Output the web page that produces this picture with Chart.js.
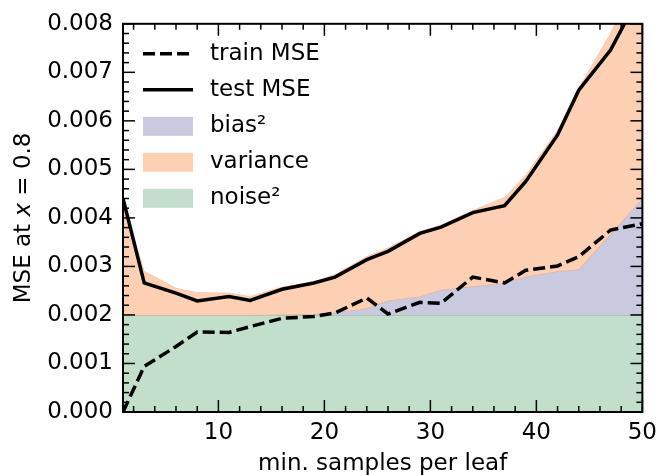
<!DOCTYPE html>
<html><head><meta charset="utf-8">
<script src="https://cdn.jsdelivr.net/npm/chart.js@4"></script>
<style>html,body{margin:0;padding:0;background:#fff}#wrap{width:664px;height:475px;position:relative}</style>
</head><body><div id="wrap"><canvas id="c"></canvas></div>
<script>
const leafSizes = [1,3,6,8,11,13,16,19,21,24,26,29,31,34,37,39,42,44,47,50];
const trainMSE  = [0.0,0.00094,0.00135,0.00165,0.00164,0.00176,0.00193,0.00197,0.00204,0.00235,0.00202,0.00226,0.00224,0.00278,0.00266,0.00292,0.00301,0.0032,0.00375,0.00388];
const testMSE   = [0.0044,0.00266,0.00245,0.00229,0.00238,0.0023,0.00253,0.00266,0.00278,0.00314,0.00331,0.00368,0.00381,0.00411,0.00425,0.00475,0.00571,0.00663,0.00746,0.0087];
const noiseSq   = [0.002,0.002,0.002,0.002,0.002,0.002,0.002,0.002,0.002,0.002,0.002,0.002,0.002,0.002,0.002,0.002,0.002,0.002,0.002,0.002];
const biasSq    = [0,0,0,0,0,0,0.00001,0.00002,0.00005,0.00014,0.0003,0.00038,0.00052,0.00059,0.00066,0.00079,0.0009,0.00094,0.00167,0.0024];
const variance  = [0.0023,0.0009,0.00055,0.00046,0.00045,0.00038,0.00056,0.00066,0.00078,0.00106,0.00108,0.00134,0.00133,0.00156,0.00176,0.00209,0.0029,0.00373,0.00413,0.0048];
const xTicks = [10,20,30,40,50];
const yTicks = [0,0.001,0.002,0.003,0.004,0.005,0.006,0.007,0.008];
const xMinorTicks = [2,4,6,8,12,14,16,18,22,24,26,28,32,34,36,38,42,44,46,48];
const yMinorStep = 0.0002;
const legendLabels = ['train MSE','test MSE','bias\u00B2','variance','noise\u00B2'];

const FONT = '"DejaVu Sans", sans-serif';
const FS = 23;
const GREEN = '#c1dfcb', BLUE = '#c9cadf', ORANGE = '#fdd0b4';

const noiseTop = noiseSq.map(v => v);
const biasTop = noiseSq.map((v,i) => v + biasSq[i]);
const totalTop = biasTop.map((v,i) => v + variance[i]);
const pts = arr => leafSizes.map((x,i) => ({x, y: arr[i]}));

const overlay = {
  id: 'overlay',
  afterDraw(chart) {
    const ctx = chart.ctx, a = chart.chartArea;
    const xs = chart.scales.x, ys = chart.scales.y;
    ctx.save();
    ctx.strokeStyle = '#000';
    ctx.lineWidth = 1.5;
    const tick = (x1,y1,x2,y2) => { ctx.beginPath(); ctx.moveTo(x1,y1); ctx.lineTo(x2,y2); ctx.stroke(); };
    xTicks.forEach(v => { const p = xs.getPixelForValue(v); tick(p,a.bottom,p,a.bottom-12); tick(p,a.top,p,a.top+12); });
    xMinorTicks.forEach(v => { const p = xs.getPixelForValue(v); tick(p,a.bottom,p,a.bottom-6); tick(p,a.top,p,a.top+6); });
    yTicks.forEach(v => { const p = ys.getPixelForValue(v); tick(a.left,p,a.left+12,p); tick(a.right,p,a.right-12,p); });
    for (let k = 1; k < 40; k++) { if (k % 5 === 0) continue; const p = ys.getPixelForValue(k*yMinorStep); tick(a.left,p,a.left+6,p); tick(a.right,p,a.right-6,p); }
    ctx.lineWidth = 2;
    ctx.strokeRect(a.left, a.top, a.right-a.left, a.bottom-a.top);
    const ds = chart.data.datasets;
    const order = [0,1,3,4,2];
    const hx = a.left + 20, hw = 50, tx = a.left + 87;
    ctx.font = FS + 'px ' + FONT;
    ctx.textBaseline = 'middle';
    ctx.fillStyle = '#000';
    order.forEach((di, r) => {
      const y = a.top + 30 + r*36;
      const d = ds[di];
      if (di < 2) {
        ctx.strokeStyle = d.borderColor; ctx.lineWidth = d.borderWidth;
        ctx.setLineDash(d.borderDash || []);
        ctx.beginPath(); ctx.moveTo(hx, y); ctx.lineTo(hx+hw, y); ctx.stroke();
        ctx.setLineDash([]);
      } else {
        ctx.fillStyle = d.backgroundColor;
        ctx.fillRect(hx, y-9, hw, 19);
      }
      ctx.fillStyle = '#000';
      ctx.fillText(legendLabels[r], tx, y);
    });
    ctx.translate(24, (a.top + a.bottom)/2);
    ctx.rotate(-Math.PI/2);
    const parts = [['MSE at ', FS+'px '+FONT], ['x', 'italic '+FS+'px '+FONT], [' = 0.8', FS+'px '+FONT]];
    let total = 0;
    parts.forEach(p => { ctx.font = p[1]; total += ctx.measureText(p[0]).width; });
    let cx = -total/2;
    ctx.textAlign = 'left';
    parts.forEach(p => { ctx.font = p[1]; ctx.fillText(p[0], cx, 0); cx += ctx.measureText(p[0]).width; });
    ctx.restore();
  }
};

new Chart(document.getElementById('c'), {
  type: 'line',
  data: {
    datasets: [
      { label: legendLabels[0], data: pts(trainMSE), borderColor: '#000', borderWidth: 3.5, borderDash: [12,5], fill: false, order: 0 },
      { label: legendLabels[1], data: pts(testMSE), borderColor: '#000', borderWidth: 3.5, fill: false, order: 0 },
      { label: legendLabels[4], data: pts(noiseTop), borderColor: '#a2bdae', borderWidth: 1.5, backgroundColor: GREEN, fill: 'origin', order: 3 },
      { label: legendLabels[2], data: pts(biasTop), borderColor: '#e3b3a3', borderWidth: 1.5, backgroundColor: BLUE, fill: '-1', order: 2 },
      { label: legendLabels[3], data: pts(totalTop), borderColor: '#fbc9ab', borderWidth: 1, backgroundColor: ORANGE, fill: '-1', order: 1 }
    ]
  },
  options: {
    responsive: true, maintainAspectRatio: false, animation: false,
    devicePixelRatio: 1,
    elements: { point: { radius: 0 }, line: { tension: 0 } },
    layout: { padding: { top: 23, right: 17, left: 0, bottom: 0 } },
    plugins: { legend: { display: false }, tooltip: { enabled: false } },
    scales: {
      x: {
        type: 'linear', min: 1, max: 50,
        grid: { display: false, drawTicks: false },
        border: { display: false },
        afterBuildTicks: s => { s.ticks = xTicks.map(v => ({ value: v })); },
        afterFit: s => { s.height = 63; },
        ticks: { color: '#000', font: { family: FONT, size: FS }, padding: 7, maxRotation: 0 },
        title: { display: true, text: 'min. samples per leaf', color: '#000', font: { family: FONT, size: FS }, padding: { top: 0, bottom: -3 } }
      },
      y: {
        type: 'linear', min: 0, max: 0.008,
        grid: { display: false, drawTicks: false },
        border: { display: false },
        afterBuildTicks: s => { s.ticks = yTicks.map(v => ({ value: v })); },
        afterFit: s => { s.width = 123; },
        ticks: { color: '#000', font: { family: FONT, size: FS }, padding: 10, callback: v => v.toFixed(3) }
      }
    }
  },
  plugins: [overlay]
});
</script></body></html>
